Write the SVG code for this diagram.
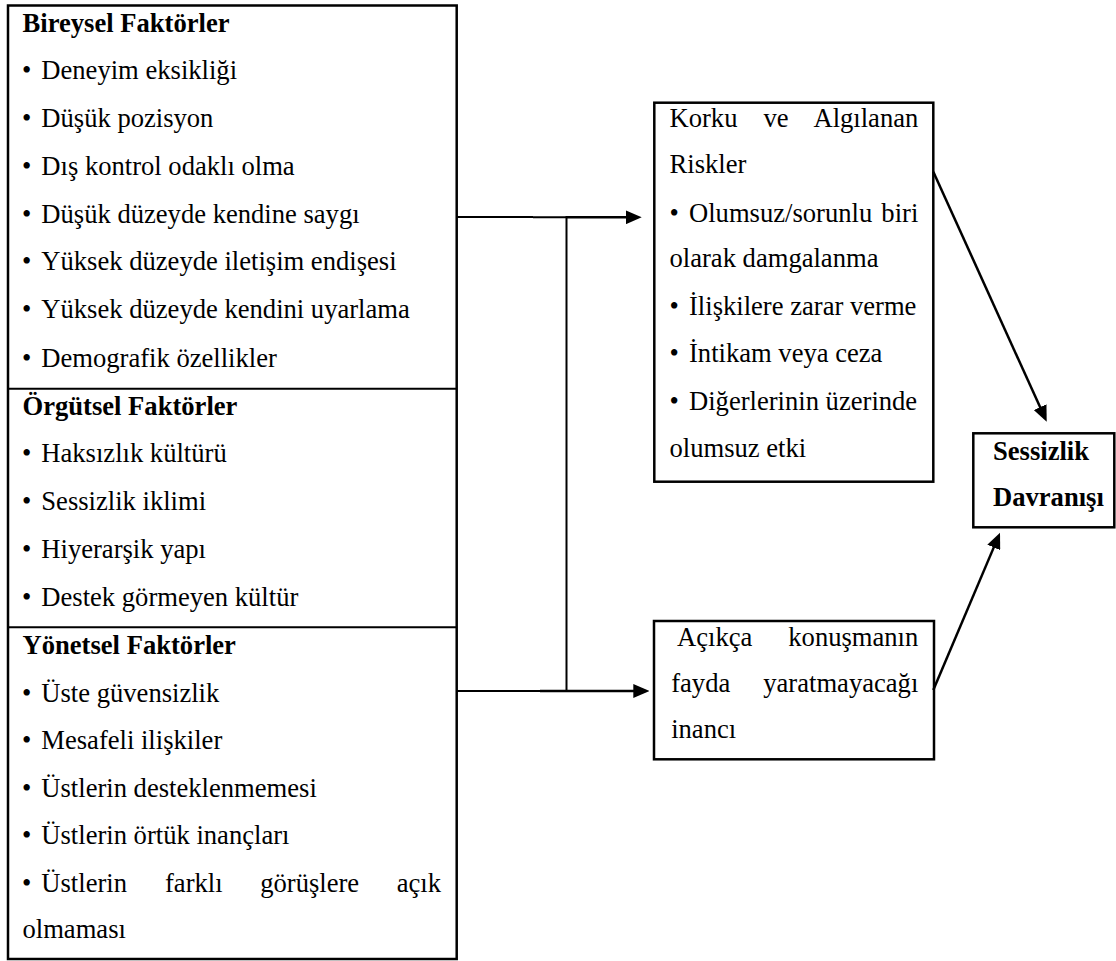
<svg xmlns="http://www.w3.org/2000/svg" width="1116" height="961" viewBox="0 0 1116 961">
<style>
text{font-family:'Liberation Serif','DejaVu Serif',serif;font-size:26.6px;fill:#000}
.b{font-weight:bold}
.box{fill:#fff;stroke:#000;stroke-width:2.5}
.ln{stroke:#000;stroke-width:2;fill:none}
.ar{stroke:#000;stroke-width:2.5;fill:none;marker-end:url(#ah)}
</style>
<defs>
<marker id="ah" markerUnits="userSpaceOnUse" markerWidth="16" markerHeight="14" refX="12" refY="7" orient="auto" viewBox="0 0 16 14">
<path d="M0,0 L16,7 L0,14 z" fill="#000"/>
</marker>
</defs>
<rect width="1116" height="961" fill="#fff"/>
<g id="factors">
<rect class="box" x="8" y="5.5" width="448.7" height="953.5"/>
<line class="ln" x1="8" y1="388.8" x2="456.7" y2="388.8" stroke-width="2.5"/>
<line class="ln" x1="8" y1="627.2" x2="456.7" y2="627.2" stroke-width="2.5"/>
<text class="b" x="22.5" y="31.7">Bireysel Faktörler</text>
<text x="22" y="79.3">•<tspan x="41.3">Deneyim eksikliği</tspan></text>
<text x="22" y="127.3">•<tspan x="41.3">Düşük pozisyon</tspan></text>
<text x="22" y="175">•<tspan x="41.3">Dış kontrol odaklı olma</tspan></text>
<text x="22" y="222.7">•<tspan x="41.3">Düşük düzeyde kendine saygı</tspan></text>
<text x="22" y="270">•<tspan x="41.3">Yüksek düzeyde iletişim endişesi</tspan></text>
<text x="22" y="318">•<tspan x="41.3">Yüksek düzeyde kendini uyarlama</tspan></text>
<text x="22" y="366.5">•<tspan x="41.3">Demografik özellikler</tspan></text>
<text class="b" x="22.5" y="415">Örgütsel Faktörler</text>
<text x="22" y="461.7">•<tspan x="41.3">Haksızlık kültürü</tspan></text>
<text x="22" y="510">•<tspan x="41.3">Sessizlik iklimi</tspan></text>
<text x="22" y="558.3">•<tspan x="41.3">Hiyerarşik yapı</tspan></text>
<text x="22" y="606">•<tspan x="41.3">Destek görmeyen kültür</tspan></text>
<text class="b" x="22.5" y="654">Yönetsel Faktörler</text>
<text x="22" y="701.7">•<tspan x="41.3">Üste güvensizlik</tspan></text>
<text x="22" y="749">•<tspan x="41.3">Mesafeli ilişkiler</tspan></text>
<text x="22" y="796.7">•<tspan x="41.3">Üstlerin desteklenmemesi</tspan></text>
<text x="22" y="844.3">•<tspan x="41.3">Üstlerin örtük inançları</tspan></text>
<text x="22" y="891.7">•<tspan x="41.3">Üstlerin</tspan><tspan x="165">farklı</tspan><tspan x="260.2">görüşlere</tspan><tspan x="441" text-anchor="end">açık</tspan></text>
<text x="22.5" y="938.3">olmaması</text>
</g>
<g id="fear">
<rect class="box" x="654.3" y="102.7" width="279" height="379"/>
<text x="669.5" y="126.7">Korku<tspan x="763.5">ve</tspan><tspan x="918.3" text-anchor="end">Algılanan</tspan></text>
<text x="669.5" y="173.3">Riskler</text>
<text x="669.5" y="221.7">•<tspan x="689">Olumsuz/sorunlu</tspan><tspan x="918.3" text-anchor="end">biri</tspan></text>
<text x="669.5" y="266.7">olarak damgalanma</text>
<text x="669.5" y="315">•<tspan x="689">İlişkilere zarar verme</tspan></text>
<text x="669.5" y="361.7">•<tspan x="689">İntikam veya ceza</tspan></text>
<text x="669.5" y="410">•<tspan x="689">Diğerlerinin üzerinde</tspan></text>
<text x="669.5" y="456.7">olumsuz etki</text>
</g>
<g id="futility">
<rect class="box" x="654" y="621" width="280" height="138.3"/>
<text x="677" y="646">Açıkça<tspan x="918.3" text-anchor="end">konuşmanın</tspan></text>
<text x="671.2" y="691.7">fayda<tspan x="918.3" text-anchor="end">yaratmayacağı</tspan></text>
<text x="671.2" y="738.3">inancı</text>
</g>
<g id="silence">
<rect class="box" x="973.3" y="433.3" width="141" height="94"/>
<text class="b" x="993" y="460">Sessizlik</text>
<text class="b" x="993" y="506">Davranışı</text>
</g>
<g id="connectors">
<line class="ln" x1="456.7" y1="217" x2="533" y2="217"/>
<line class="ln" x1="533" y1="217.3" x2="567" y2="217.3" stroke-width="3"/>
<line class="ar" x1="566" y1="217.3" x2="637.7" y2="217.3"/>
<line class="ln" x1="566.5" y1="216" x2="566.5" y2="691"/>
<line class="ln" x1="456.7" y1="691" x2="540" y2="691" stroke-width="1.6"/>
<line class="ar" x1="540" y1="691" x2="645.3" y2="691"/>
<line class="ar" x1="933.3" y1="171.7" x2="1045.05" y2="418.06"/>
<line class="ar" x1="933.3" y1="690" x2="998.44" y2="536.38"/>
</g>
</svg>
